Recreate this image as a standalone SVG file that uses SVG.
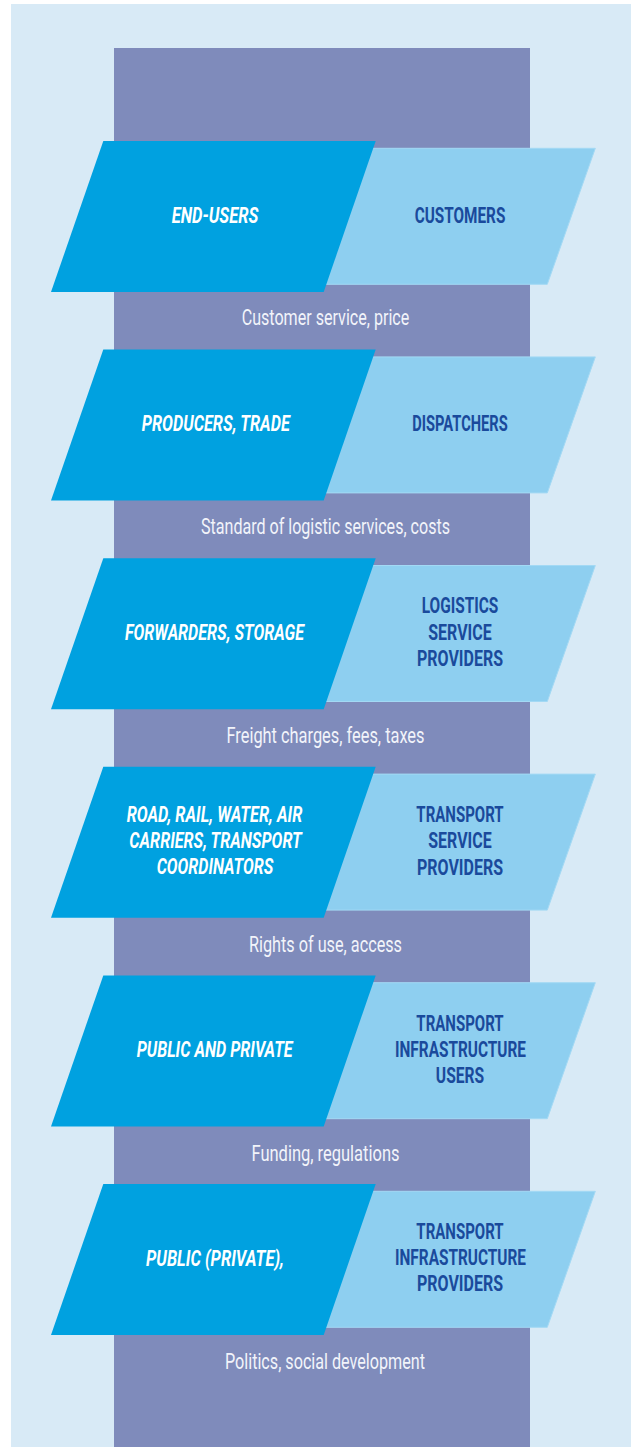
<svg xmlns="http://www.w3.org/2000/svg" width="631" height="1447" viewBox="0 0 631 1447">
<style>
.bg{fill:#D8EAF6}
.col{fill:#7F8BBB}
.dk{fill:#00A1E0}
.lt{fill:#8ECFF0;stroke:#A3D9F4;stroke-width:1}
.tl{font-family:Roboto,"Liberation Sans",sans-serif;font-size:22px;font-weight:700;font-style:italic;fill:#FFFFFF;text-anchor:middle}
.tr{font-family:Roboto,"Liberation Sans",sans-serif;font-size:22px;font-weight:700;fill:#1A4A9C;text-anchor:middle}
.lb{font-family:Roboto,"Liberation Sans",sans-serif;font-size:21.5px;font-weight:400;fill:#F2F4FA;text-anchor:middle}
</style>
<defs>
<polygon id="lp" points="360,148.3 595.3,148.3 547.3,284.3 312,284.3"/>
<polygon id="dp" points="103.3,141 375.7,141 323.7,292 51,292"/>
</defs>
<rect class="bg" x="11" y="4" width="620" height="1443"/>
<rect class="col" x="114" y="48" width="416" height="1399"/>
<g id="connectors"></g>
<g id="row1">
<use href="#lp" class="lt"/><use href="#dp" class="dk"/>
<text class="tl" x="215" y="222.5" textLength="86.6" lengthAdjust="spacingAndGlyphs">END-USERS</text>
<text class="tr" x="460" y="222.5" textLength="90.7" lengthAdjust="spacingAndGlyphs">CUSTOMERS</text>
</g>
<text id="label1" class="lb" x="325.5" y="324.5" textLength="167.6" lengthAdjust="spacingAndGlyphs">Customer service, price</text>
<g id="row2" transform="translate(0,208.6)">
<use href="#lp" class="lt"/><use href="#dp" class="dk"/>
<text class="tl" x="215.8" y="222.3" textLength="148" lengthAdjust="spacingAndGlyphs">PRODUCERS, TRADE</text>
<text class="tr" x="460" y="222.3" textLength="95.4" lengthAdjust="spacingAndGlyphs">DISPATCHERS</text>
</g>
<text id="label2" class="lb" x="325.5" y="534" textLength="249" lengthAdjust="spacingAndGlyphs">Standard of logistic services, costs</text>
<g id="row3" transform="translate(0,417.2)">
<use href="#lp" class="lt"/><use href="#dp" class="dk"/>
<text class="tl" x="214.5" y="222.5" textLength="179" lengthAdjust="spacingAndGlyphs">FORWARDERS, STORAGE</text>
<text class="tr" x="460" y="195.8" textLength="76.6" lengthAdjust="spacingAndGlyphs">LOGISTICS</text>
<text class="tr" x="460" y="222.5" textLength="63.4" lengthAdjust="spacingAndGlyphs">SERVICE</text>
<text class="tr" x="460" y="249.2" textLength="86" lengthAdjust="spacingAndGlyphs">PROVIDERS</text>
</g>
<text id="label3" class="lb" x="325.5" y="743" textLength="198" lengthAdjust="spacingAndGlyphs">Freight charges, fees, taxes</text>
<g id="row4" transform="translate(0,625.8)">
<use href="#lp" class="lt"/><use href="#dp" class="dk"/>
<text class="tl" x="214.5" y="195.9" textLength="175.7" lengthAdjust="spacingAndGlyphs">ROAD, RAIL, WATER, AIR</text>
<text class="tl" x="215.5" y="222.5" textLength="172.3" lengthAdjust="spacingAndGlyphs">CARRIERS, TRANSPORT</text>
<text class="tl" x="215" y="248.5" textLength="116.7" lengthAdjust="spacingAndGlyphs">COORDINATORS</text>
<text class="tr" x="460" y="195.9" textLength="87.3" lengthAdjust="spacingAndGlyphs">TRANSPORT</text>
<text class="tr" x="460" y="222.5" textLength="63.4" lengthAdjust="spacingAndGlyphs">SERVICE</text>
<text class="tr" x="460" y="248.9" textLength="86" lengthAdjust="spacingAndGlyphs">PROVIDERS</text>
</g>
<text id="label4" class="lb" x="325.5" y="952" textLength="153" lengthAdjust="spacingAndGlyphs">Rights of use, access</text>
<g id="row5" transform="translate(0,834.4)">
<use href="#lp" class="lt"/><use href="#dp" class="dk"/>
<text class="tl" x="214.7" y="222.3" textLength="156" lengthAdjust="spacingAndGlyphs">PUBLIC AND PRIVATE</text>
<text class="tr" x="460" y="196.6" textLength="87.3" lengthAdjust="spacingAndGlyphs">TRANSPORT</text>
<text class="tr" x="460.5" y="222.3" textLength="131" lengthAdjust="spacingAndGlyphs">INFRASTRUCTURE</text>
<text class="tr" x="460" y="248.3" textLength="48.3" lengthAdjust="spacingAndGlyphs">USERS</text>
</g>
<text id="label5" class="lb" x="325.5" y="1161" textLength="148" lengthAdjust="spacingAndGlyphs">Funding, regulations</text>
<g id="row6" transform="translate(0,1043)">
<use href="#lp" class="lt"/><use href="#dp" class="dk"/>
<text class="tl" x="215" y="222.5" textLength="138" lengthAdjust="spacingAndGlyphs">PUBLIC (PRIVATE),</text>
<text class="tr" x="460" y="196" textLength="87.3" lengthAdjust="spacingAndGlyphs">TRANSPORT</text>
<text class="tr" x="460.5" y="222" textLength="131" lengthAdjust="spacingAndGlyphs">INFRASTRUCTURE</text>
<text class="tr" x="460" y="248" textLength="86" lengthAdjust="spacingAndGlyphs">PROVIDERS</text>
</g>
<text id="label6" class="lb" x="325" y="1369" textLength="200" lengthAdjust="spacingAndGlyphs">Politics, social development</text>
</svg>
